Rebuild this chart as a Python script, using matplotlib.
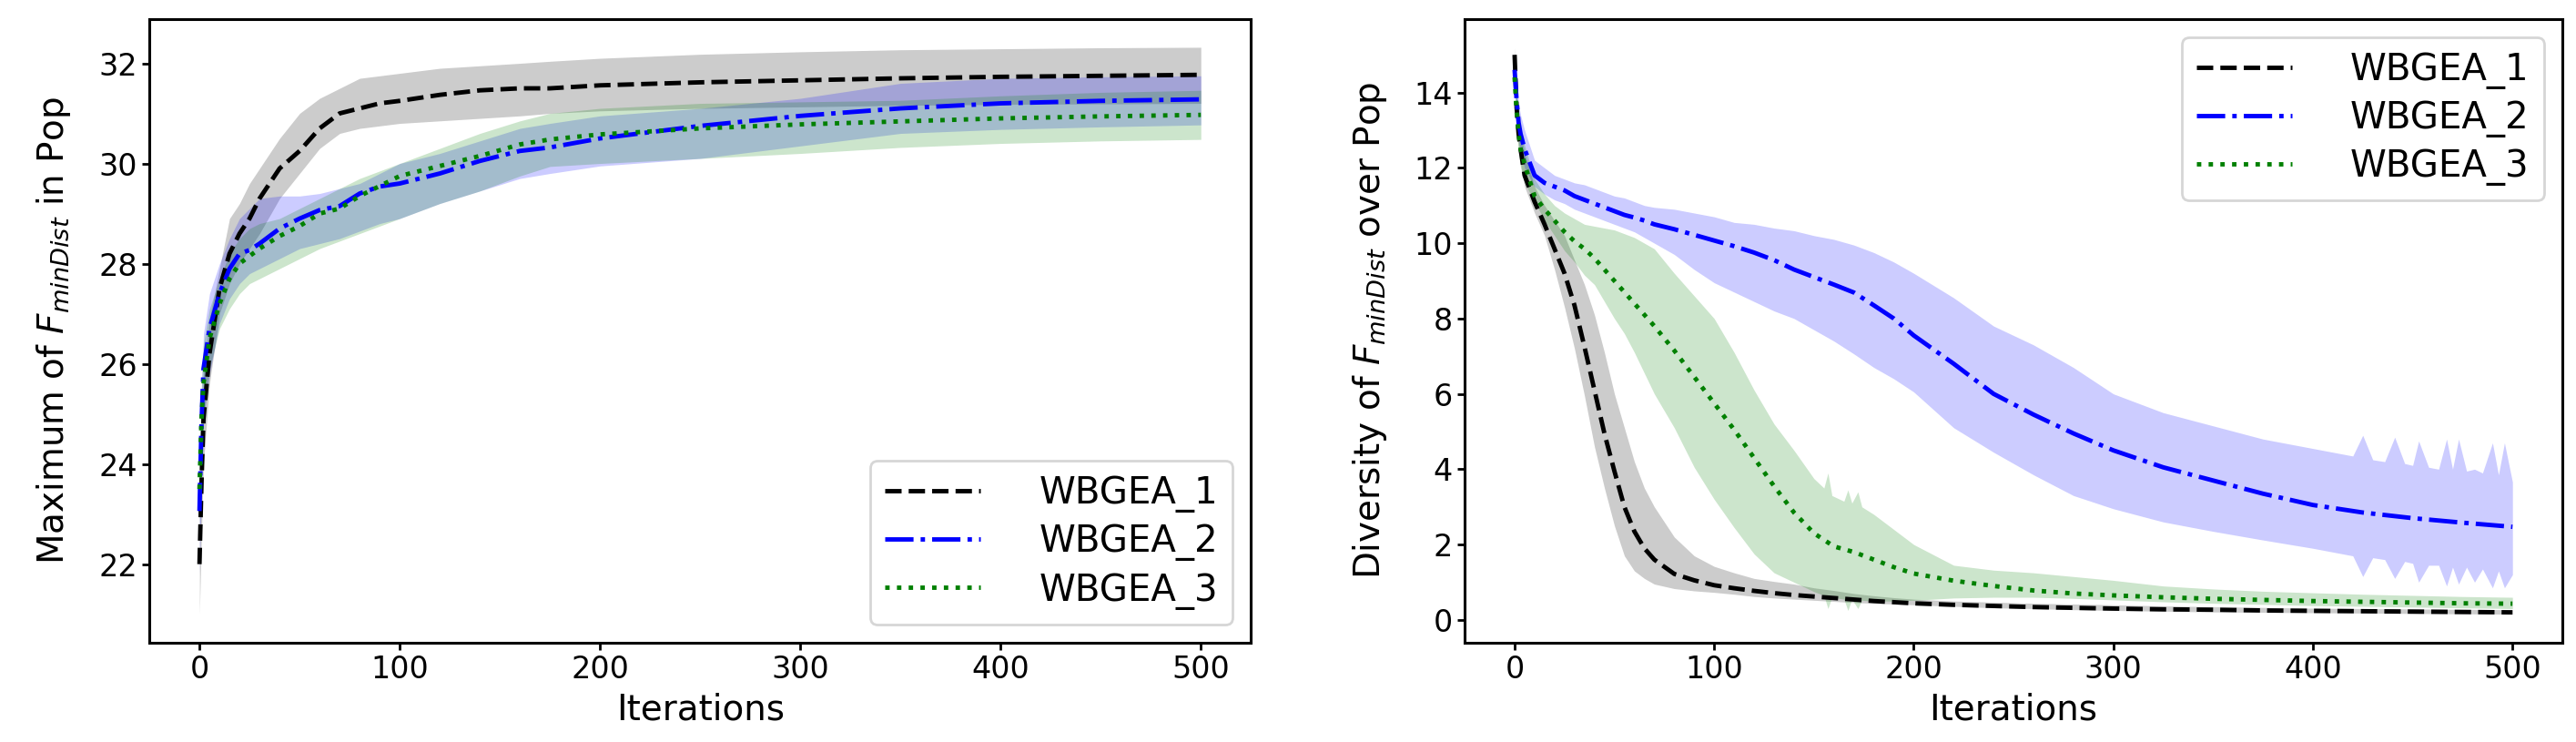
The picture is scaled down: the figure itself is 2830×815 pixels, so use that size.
import matplotlib
matplotlib.use('agg')
import matplotlib.pyplot as plt

names = ['WBGEA_1', 'WBGEA_2', 'WBGEA_3']

# left panel: maximum of F_minDist in population
lx = [0, 1, 2, 5, 10, 15, 20, 25, 30, 40, 50, 60, 70, 80, 90, 100, 120, 140, 160, 175,
      200, 250, 300, 350, 400, 450, 500]
lb_mean = [22.0, 23.6, 24.9, 26.2, 27.5, 28.2, 28.6, 28.9, 29.3, 29.9, 30.25, 30.7, 31.0, 31.1,
           31.2, 31.25, 31.37, 31.46, 31.5, 31.5, 31.56, 31.62, 31.66, 31.7, 31.73, 31.75, 31.77]
lb_hi = [23.0, 24.5, 25.8, 26.9, 27.9, 28.9, 29.2, 29.6, 29.9, 30.5, 31.0, 31.3, 31.5, 31.7,
         31.75, 31.8, 31.9, 31.95, 32.0, 32.04, 32.1, 32.18, 32.23, 32.27, 32.29, 32.31, 32.32]
lb_lo = [21.0, 22.6, 24.0, 25.6, 27.0, 27.6, 28.0, 28.3, 28.6, 29.3, 29.8, 30.3, 30.6, 30.7,
         30.75, 30.8, 30.85, 30.9, 30.95, 31.0, 31.05, 31.1, 31.13, 31.16, 31.18, 31.19, 31.2]
lbl_mean = [23.06, 24.8, 25.9, 26.7, 27.4, 27.9, 28.2, 28.27, 28.4, 28.7, 28.9, 29.07, 29.15, 29.4,
            29.54, 29.6, 29.8, 30.05, 30.25, 30.32, 30.5, 30.75, 30.95, 31.1, 31.2, 31.25, 31.28]
lbl_hi = [23.8, 25.5, 26.6, 27.4, 28.0, 28.5, 28.9, 29.1, 29.3, 29.35, 29.35, 29.4, 29.5, 29.6,
          29.8, 30.0, 30.2, 30.45, 30.7, 30.8, 30.95, 31.1, 31.3, 31.6, 31.7, 31.73, 31.75]
lbl_lo = [21.8, 23.5, 24.8, 25.8, 26.8, 27.3, 27.6, 27.8, 27.9, 28.1, 28.3, 28.4, 28.5, 28.65,
          28.8, 28.9, 29.2, 29.45, 29.7, 29.8, 29.95, 30.1, 30.35, 30.6, 30.68, 30.73, 30.77]
lg_mean = [23.5, 24.9, 25.6, 26.5, 27.2, 27.7, 28.0, 28.15, 28.3, 28.55, 28.75, 29.0, 29.1, 29.35,
           29.55, 29.75, 29.95, 30.15, 30.38, 30.48, 30.58, 30.7, 30.78, 30.84, 30.9, 30.94, 30.97]
lg_hi = [24.2, 25.6, 26.4, 27.1, 27.7, 28.2, 28.5, 28.7, 28.8, 28.9, 29.1, 29.3, 29.5, 29.7,
         29.85, 30.0, 30.3, 30.6, 30.85, 31.0, 31.1, 31.2, 31.23, 31.26, 31.35, 31.42, 31.46]
lg_lo = [22.8, 24.2, 24.9, 25.9, 26.7, 27.1, 27.4, 27.6, 27.7, 27.9, 28.1, 28.3, 28.45, 28.6,
         28.75, 28.9, 29.2, 29.45, 29.75, 29.94, 30.0, 30.1, 30.2, 30.32, 30.4, 30.45, 30.48]

# right panel: diversity of F_minDist over population
rx = [0, 1, 2, 3, 5, 10, 15, 20, 25, 30, 35, 40, 45, 50, 55, 60, 65, 70, 80, 90, 100, 110, 120,
      130, 140, 150, 160, 170, 180, 190, 200, 220, 240, 260, 280, 300, 325, 350, 375, 400, 425,
      450, 475, 500]
rb_mean = [15.0, 13.6, 12.9, 12.5, 11.8, 11.1, 10.5, 9.85, 9.2, 8.35, 7.25, 6.1, 4.95, 3.95, 3.0,
           2.35, 1.9, 1.6, 1.22, 1.05, 0.92, 0.84, 0.77, 0.71, 0.66, 0.62, 0.58, 0.54, 0.5, 0.47,
           0.44, 0.4, 0.37, 0.34, 0.32, 0.3, 0.28, 0.27, 0.25, 0.24, 0.23, 0.22, 0.21, 0.2]
rb_hi = [15.2, 14.0, 13.3, 12.9, 12.4, 11.5, 11.0, 10.6, 10.2, 9.55, 8.9, 8.1, 7.1, 6.0, 5.1, 4.2,
         3.5, 3.0, 2.2, 1.7, 1.42, 1.25, 1.1, 1.02, 0.95, 0.85, 0.78, 0.7, 0.64, 0.59, 0.55, 0.5,
         0.47, 0.44, 0.42, 0.4, 0.37, 0.35, 0.33, 0.31, 0.3, 0.29, 0.28, 0.27]
rb_lo = [14.8, 13.2, 12.5, 12.1, 11.5, 10.8, 10.2, 9.3, 8.3, 7.2, 5.95, 4.6, 3.5, 2.5, 1.7, 1.3,
         1.1, 0.95, 0.83, 0.77, 0.73, 0.68, 0.62, 0.58, 0.55, 0.52, 0.49, 0.46, 0.44, 0.42, 0.4,
         0.36, 0.32, 0.3, 0.27, 0.25, 0.23, 0.21, 0.2, 0.19, 0.18, 0.17, 0.16, 0.15]
rbl_mean = [14.6, 13.8, 13.2, 12.9, 12.5, 11.8, 11.6, 11.5, 11.4, 11.25, 11.15, 11.05, 10.95, 10.85,
            10.75, 10.68, 10.6, 10.5, 10.37, 10.22, 10.07, 9.92, 9.75, 9.55, 9.3, 9.1, 8.9, 8.69,
            8.35, 8.0, 7.55, 6.8, 6.0, 5.45, 4.95, 4.5, 4.05, 3.7, 3.35, 3.05, 2.85, 2.7, 2.58, 2.47]
rg_mean = [14.4, 13.5, 12.9, 12.5, 12.1, 11.25, 10.9, 10.6, 10.3, 10.05, 9.85, 9.6, 9.3, 9.0, 8.7,
           8.4, 8.1, 7.8, 7.15, 6.45, 5.75, 5.05, 4.3, 3.55, 2.85, 2.3, 1.95, 1.8, 1.6, 1.4, 1.23,
           1.04, 0.9, 0.78, 0.7, 0.65, 0.6, 0.56, 0.53, 0.5, 0.48, 0.46, 0.44, 0.43]

# WBGEA_2 band (spiky near the end)
bx = [0, 1, 2, 3, 5, 10, 15, 20, 25, 30, 35, 40, 45, 50, 55, 60, 65, 70, 80, 90, 100, 110, 120,
      130, 140, 150, 160, 170, 180, 190, 200, 220, 240, 260, 280, 300, 325, 350, 375, 400,
      410, 420, 425, 430, 436, 441, 446, 450, 453, 458, 463, 467, 470, 473, 477, 481, 485, 490,
      493, 496, 500]
rbl_hi = [15.0, 14.3, 13.7, 13.4, 13.0, 12.2, 12.0, 11.8, 11.7, 11.6, 11.55, 11.45, 11.35, 11.25,
          11.2, 11.1, 11.0, 10.95, 10.9, 10.8, 10.7, 10.55, 10.5, 10.4, 10.33, 10.2, 10.1, 9.95,
          9.75, 9.5, 9.2, 8.55, 7.8, 7.3, 6.7, 6.0, 5.5, 5.15, 4.8, 4.55,
          4.45, 4.35, 4.9, 4.25, 4.2, 4.85, 4.15, 4.1, 4.75, 4.05, 4.0, 4.8, 4.0, 4.8, 3.95, 4.0,
          3.9, 4.7, 3.85, 4.7, 3.66]
rbl_lo = [14.2, 13.3, 12.7, 12.4, 12.0, 11.5, 11.3, 11.15, 11.05, 10.9, 10.8, 10.7, 10.6, 10.5,
          10.4, 10.3, 10.15, 10.0, 9.7, 9.3, 8.95, 8.7, 8.45, 8.2, 8.0, 7.7, 7.4, 7.06, 6.7, 6.4,
          6.05, 5.1, 4.45, 3.85, 3.3, 2.95, 2.6, 2.35, 2.12, 1.9,
          1.8, 1.7, 1.15, 1.65, 1.6, 1.1, 1.55, 1.5, 1.0, 1.45, 1.45, 0.9, 1.4, 0.95, 1.4, 1.0,
          1.35, 0.85, 1.3, 0.85, 1.2]

# WBGEA_3 band (a few spikes around 160)
gx = [0, 1, 2, 3, 5, 10, 15, 20, 25, 30, 35, 40, 45, 50, 55, 60, 65, 70, 80, 90, 100, 110, 120,
      130, 140, 150, 155, 157, 159, 165, 167, 169, 172, 174, 180, 190, 200, 220, 240, 260, 280,
      300, 325, 350, 375, 400, 425, 450, 475, 500]
rg_hi = [14.8, 14.0, 13.4, 13.0, 12.6, 11.7, 11.3, 11.0, 10.8, 10.65, 10.5, 10.45, 10.4, 10.35,
         10.25, 10.15, 10.0, 9.85, 9.2, 8.6, 8.0, 7.1, 6.1, 5.2, 4.5, 3.75, 3.5, 3.9, 3.3, 3.15,
         3.45, 3.1, 3.4, 3.0, 2.8, 2.4, 2.0, 1.45, 1.32, 1.25, 1.15, 1.05, 0.9, 0.82, 0.76, 0.72,
         0.68, 0.65, 0.62, 0.6]
rg_lo = [14.0, 13.0, 12.4, 12.0, 11.6, 11.1, 10.6, 10.2, 9.8, 9.5, 9.15, 8.9, 8.45, 8.0, 7.6, 7.1,
         6.55, 6.0, 5.1, 4.05, 3.2, 2.45, 1.75, 1.25, 1.0, 0.75, 0.65, 0.3, 0.6, 0.55, 0.25, 0.55,
         0.3, 0.52, 0.5, 0.5, 0.52, 0.58, 0.6, 0.6, 0.57, 0.53, 0.48, 0.44, 0.41, 0.38, 0.36, 0.34,
         0.32, 0.3]

colors = ['black', 'blue', 'green']
styles = ['--', '-.', ':']

fig = plt.figure(figsize=(28.3, 8.15), dpi=100)
ax1 = fig.add_axes([0.058, 0.134, 0.4276, 0.8405])
ax2 = fig.add_axes([0.5686, 0.134, 0.4261, 0.8405])

# bands first, lines on top
ax1.fill_between(lx, lb_lo, lb_hi, color=colors[0], alpha=0.2, linewidth=0)
ax1.fill_between(lx, lbl_lo, lbl_hi, color=colors[1], alpha=0.2, linewidth=0)
ax1.fill_between(lx, lg_lo, lg_hi, color=colors[2], alpha=0.2, linewidth=0)
for ys, c, ls, lab in zip([lb_mean, lbl_mean, lg_mean], colors, styles, names):
    ax1.plot(lx, ys, color=c, linestyle=ls, linewidth=3.5, label=lab)

ax2.fill_between(rx, rb_lo, rb_hi, color=colors[0], alpha=0.2, linewidth=0)
ax2.fill_between(bx, rbl_lo, rbl_hi, color=colors[1], alpha=0.2, linewidth=0)
ax2.fill_between(gx, rg_lo, rg_hi, color=colors[2], alpha=0.2, linewidth=0)
for ys, c, ls, lab in zip([rb_mean, rbl_mean, rg_mean], colors, styles, names):
    ax2.plot(rx, ys, color=c, linestyle=ls, linewidth=3.5, label=lab)

ax1.set_ylabel(r'Maximum of $F_{minDist}$ in Pop', fontsize=28, labelpad=20)
ax2.set_ylabel(r'Diversity of $F_{minDist}$ over Pop', fontsize=28, labelpad=20)

for ax, loc in [(ax1, 'lower right'), (ax2, 'upper right')]:
    ax.set_xlabel('Iterations', fontsize=28, labelpad=6)
    ax.set_xticks([0, 100, 200, 300, 400, 500])
    ax.tick_params(labelsize=24, length=6, width=2)
    for sp in ax.spines.values():
        sp.set_linewidth(2.2)
    leg = ax.legend(loc=loc, fontsize=29, handlelength=2.6, handletextpad=1.6,
                    labelspacing=0.3, borderaxespad=0.5)
    leg.get_frame().set_linewidth(2)

fig.savefig('out.png', dpi=100)
